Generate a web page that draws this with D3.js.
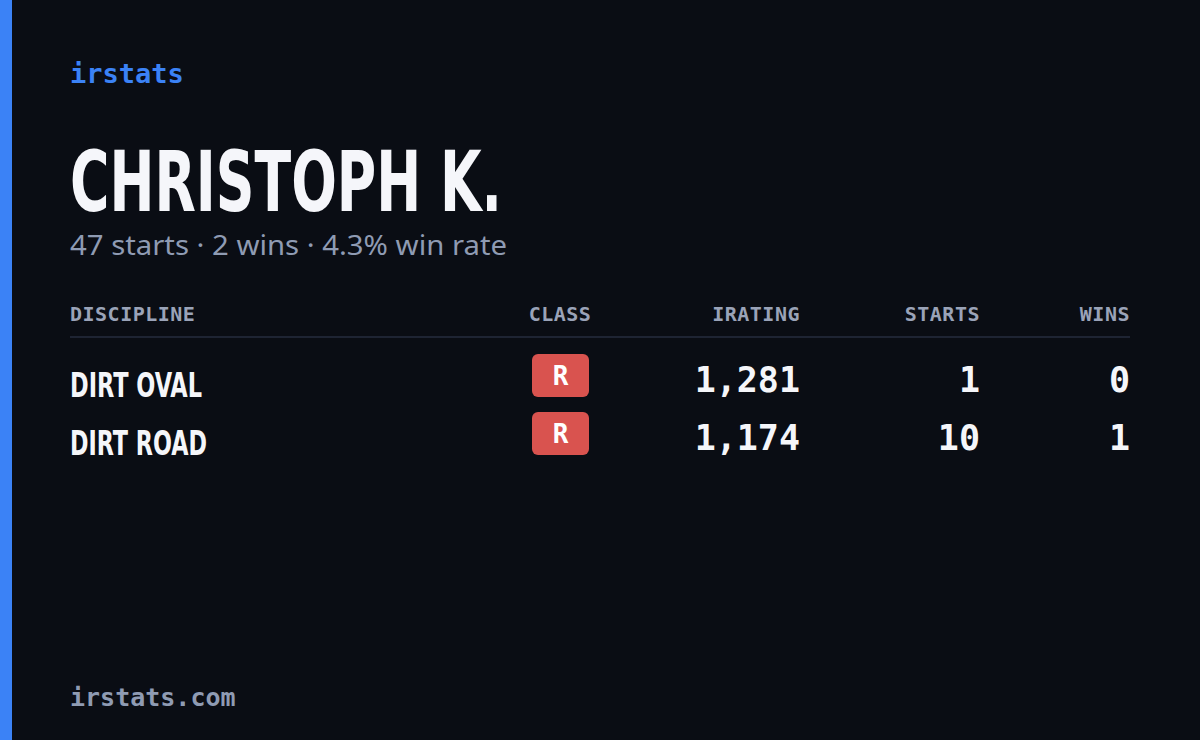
<!DOCTYPE html>
<html><head><meta charset="utf-8">
<script src="https://cdn.jsdelivr.net/npm/d3@7/dist/d3.min.js"></script>
<style>html,body{margin:0;padding:0;background:#0a0d14;}</style>
</head><body>
<svg id="c" width="1200" height="740"></svg>
<script>
const brand = "irstats";
const driverName = "CHRISTOPH K.";
const summary = "47 starts · 2 wins · 4.3% win rate";
const footer = "irstats.com";
const headers = ["DISCIPLINE","CLASS","IRATING","STARTS","WINS"];
const disciplines = ["DIRT OVAL","DIRT ROAD"];
const classes = ["R","R"];
const iratings = [1281,1174];
const starts = [1,10];
const wins = [0,1];

const svg = d3.select("#c");
const mono = "'DejaVu Sans Mono','Liberation Mono',monospace";
const cond = "'Liberation Sans Narrow','DejaVu Sans Condensed',sans-serif";
svg.append("rect").attr("width",1200).attr("height",740).attr("fill","#0a0d14");
svg.append("rect").attr("width",12).attr("height",740).attr("fill","#3b82f6");
svg.append("text").attr("x",70).attr("y",83).attr("font-family",mono).attr("font-weight",700).attr("font-size",27).attr("fill","#3b82f6").text(brand);
svg.append("text").attr("x",70).attr("y",211).attr("font-family",cond).attr("font-weight",700).attr("font-size",84).attr("fill","#f5f6fa").attr("textLength",432).attr("lengthAdjust","spacingAndGlyphs").text(driverName);
svg.append("text").attr("x",70).attr("y",255).attr("font-family","'Noto Sans',sans-serif").attr("font-size",28).attr("fill","#8f9bb3").attr("textLength",437).attr("lengthAdjust","spacingAndGlyphs").text(summary);

const colX = [70,560,800,980,1130];
const anchors = ["start","middle","end","end","end"];
svg.selectAll("text.h").data(headers).join("text").attr("class","h")
  .attr("x",(d,i)=>colX[i]).attr("y",321).attr("text-anchor",(d,i)=>anchors[i])
  .attr("font-family",mono).attr("font-weight",700).attr("font-size",20).attr("letter-spacing",0.5).attr("fill","#9aa3b8").text(d=>d);
svg.append("line").attr("x1",70).attr("x2",1130).attr("y1",337).attr("y2",337).attr("stroke","#1e2433").attr("stroke-width",2);

const y = d3.scaleBand().domain(d3.range(disciplines.length)).range([346,462]);
const fmt = d3.format(",");
const nameW = [132,137];
const rows = svg.selectAll("g.r").data(disciplines).join("g").attr("class","r")
  .attr("transform",(d,i)=>`translate(0,${y(i)})`);
rows.append("text").attr("x",70).attr("y",51).attr("font-family",cond).attr("font-weight",700).attr("font-size",34).attr("fill","#f5f6fa")
  .attr("textLength",(d,i)=>nameW[i]).attr("lengthAdjust","spacingAndGlyphs").text(d=>d);
rows.append("rect").attr("x",532).attr("y",8).attr("width",57).attr("height",43).attr("rx",6).attr("fill","#d9534f");
rows.append("text").attr("x",560.5).attr("y",39).attr("text-anchor","middle").attr("font-family",mono).attr("font-weight",700).attr("font-size",26).attr("fill","#ffffff").text((d,i)=>classes[i]);
const nums=[iratings.map(fmt),starts,wins];
[2,3,4].forEach((c,k)=>{
  rows.append("text").attr("x",colX[c]).attr("y",46).attr("text-anchor","end").attr("font-family",mono).attr("font-weight",700).attr("font-size",35).attr("fill","#f5f6fa").text((d,i)=>nums[k][i]);
});
svg.append("text").attr("x",70).attr("y",706).attr("font-family",mono).attr("font-weight",700).attr("font-size",25).attr("fill","#8f9bb3").text(footer);
</script>
</body></html>
